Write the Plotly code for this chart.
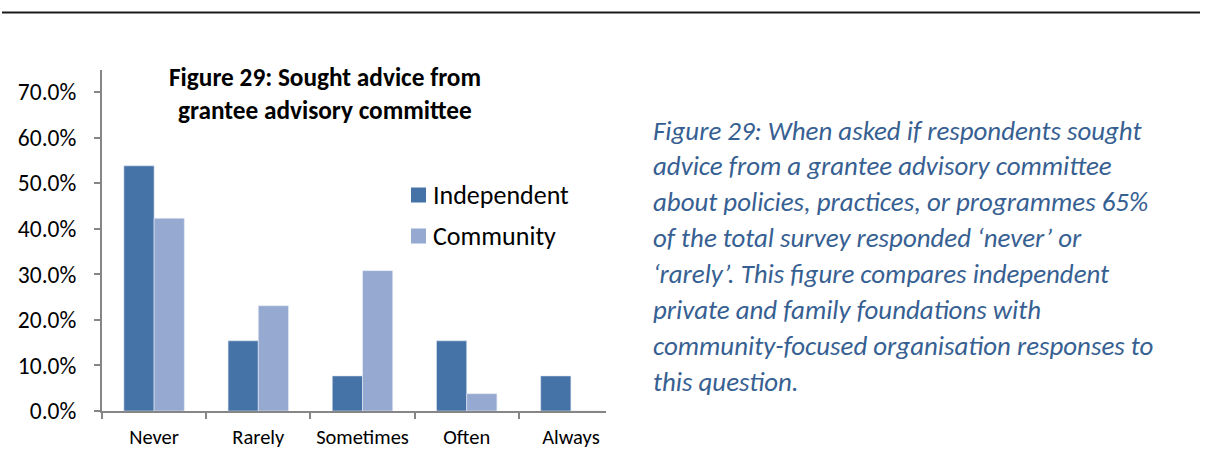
import plotly.graph_objects as go

# Survey responses: share of respondents per answer, by organisation type
categories = ["Never", "Rarely", "Sometimes", "Often", "Always"]
independent = [53.8, 15.4, 7.7, 15.4, 7.7]
community = [42.3, 23.1, 30.8, 3.8, 0.0]
series_names = ["Independent", "Community"]
y_ticks = [0, 10, 20, 30, 40, 50, 60, 70]
y_tick_text = ["0.0%", "10.0%", "20.0%", "30.0%", "40.0%", "50.0%", "60.0%", "70.0%"]

title_lines = ["Figure 29: Sought advice from", "grantee advisory committee"]
caption_lines = [
    "Figure 29: When asked if respondents sought",
    "advice from a grantee advisory committee",
    "about policies, practices, or programmes 65%",
    "of the total survey responded \u2018never\u2019 or",
    "\u2018rarely\u2019. This figure compares independent",
    "private and family foundations with",
    "community-focused organisation responses to",
    "this question.",
]

W, H = 1207, 450
FONT = "Carlito, Lato, sans-serif"
DARK = "#4572A7"
LIGHT = "#95A9D1"
AXIS = "#868686"
CAPTION = "#376092"


def py(row):
    """Paper fraction for a pixel row measured from the top."""
    return 1 - row / H


fig = go.Figure()
fig.add_trace(go.Bar(x=categories, y=independent, name=series_names[0],
                     marker=dict(color=DARK, line=dict(color="#dfe6f0", width=0.6))))
fig.add_trace(go.Bar(x=categories, y=community, name=series_names[1],
                     marker=dict(color=LIGHT, line=dict(color="#e8edf6", width=0.6))))

# plot area in pixels
x0, x1 = 102, 606
y_bot, y_top, y_70 = 411, 70, 92
px_per_cat = 104.2
fig.update_layout(
    width=W, height=H,
    margin=dict(l=0, r=0, t=0, b=0),
    paper_bgcolor="white", plot_bgcolor="white",
    barmode="group", bargap=0.42, bargroupgap=0,
    font=dict(family=FONT, color="black"),
    showlegend=False,
    xaxis=dict(domain=[x0 / W, x1 / W],
               range=[-0.5, -0.5 + (x1 - x0) / px_per_cat],
               type="category", tickson="boundaries", tickangle=0,
               automargin=False,
               showline=True, linecolor=AXIS, linewidth=2,
               ticks="outside", ticklen=6, tickcolor=AXIS, tickwidth=2,
               tickfont=dict(size=20.5, family=FONT), ticklabelstandoff=6,
               showgrid=False, zeroline=False),
    yaxis=dict(domain=[py(y_bot), py(y_top)],
               range=[0, 70 * (y_bot - y_top) / (y_bot - y_70)],
               tickvals=y_ticks, ticktext=y_tick_text,
               automargin=False,
               showline=True, linecolor=AXIS, linewidth=2,
               ticks="outside", ticklen=6, tickcolor=AXIS, tickwidth=2,
               tickfont=dict(size=23.5, family=FONT), ticklabelstandoff=13,
               showgrid=False, zeroline=False),
)

# rule across the top of the page
fig.add_shape(type="line", xref="paper", yref="paper",
              x0=2 / W, x1=1200 / W, y0=py(12.5), y1=py(12.5),
              line=dict(color="#1a1a1a", width=2))

# legend: colour swatches with series names
for i, (name, color) in enumerate(zip(series_names, [DARK, LIGHT])):
    cy = 195 + 41 * i
    fig.add_shape(type="rect", xref="paper", yref="paper",
                  x0=411 / W, x1=426 / W, y0=py(cy + 7.5), y1=py(cy - 7.5),
                  fillcolor=color, line=dict(width=0))
    fig.add_annotation(text=name, xref="paper", yref="paper",
                       x=431 / W, y=py(cy), xanchor="left", yanchor="middle",
                       showarrow=False, font=dict(size=26, family=FONT, color="black"))

# chart title
for i, line in enumerate(title_lines):
    fig.add_annotation(text="<b>" + line + "</b>", xref="paper", yref="paper",
                       x=325 / W, y=py(77 + 33 * i),
                       xanchor="center", yanchor="middle", showarrow=False,
                       font=dict(size=25.3, family=FONT, color="black"))

# caption beside the chart
for i, line in enumerate(caption_lines):
    fig.add_annotation(text="<i>" + line + "</i>", xref="paper", yref="paper",
                       x=651 / W, y=py(130 + 35.9 * i),
                       xanchor="left", yanchor="middle", showarrow=False,
                       font=dict(size=26.9, family=FONT, color=CAPTION))

fig.write_html("out.html")
